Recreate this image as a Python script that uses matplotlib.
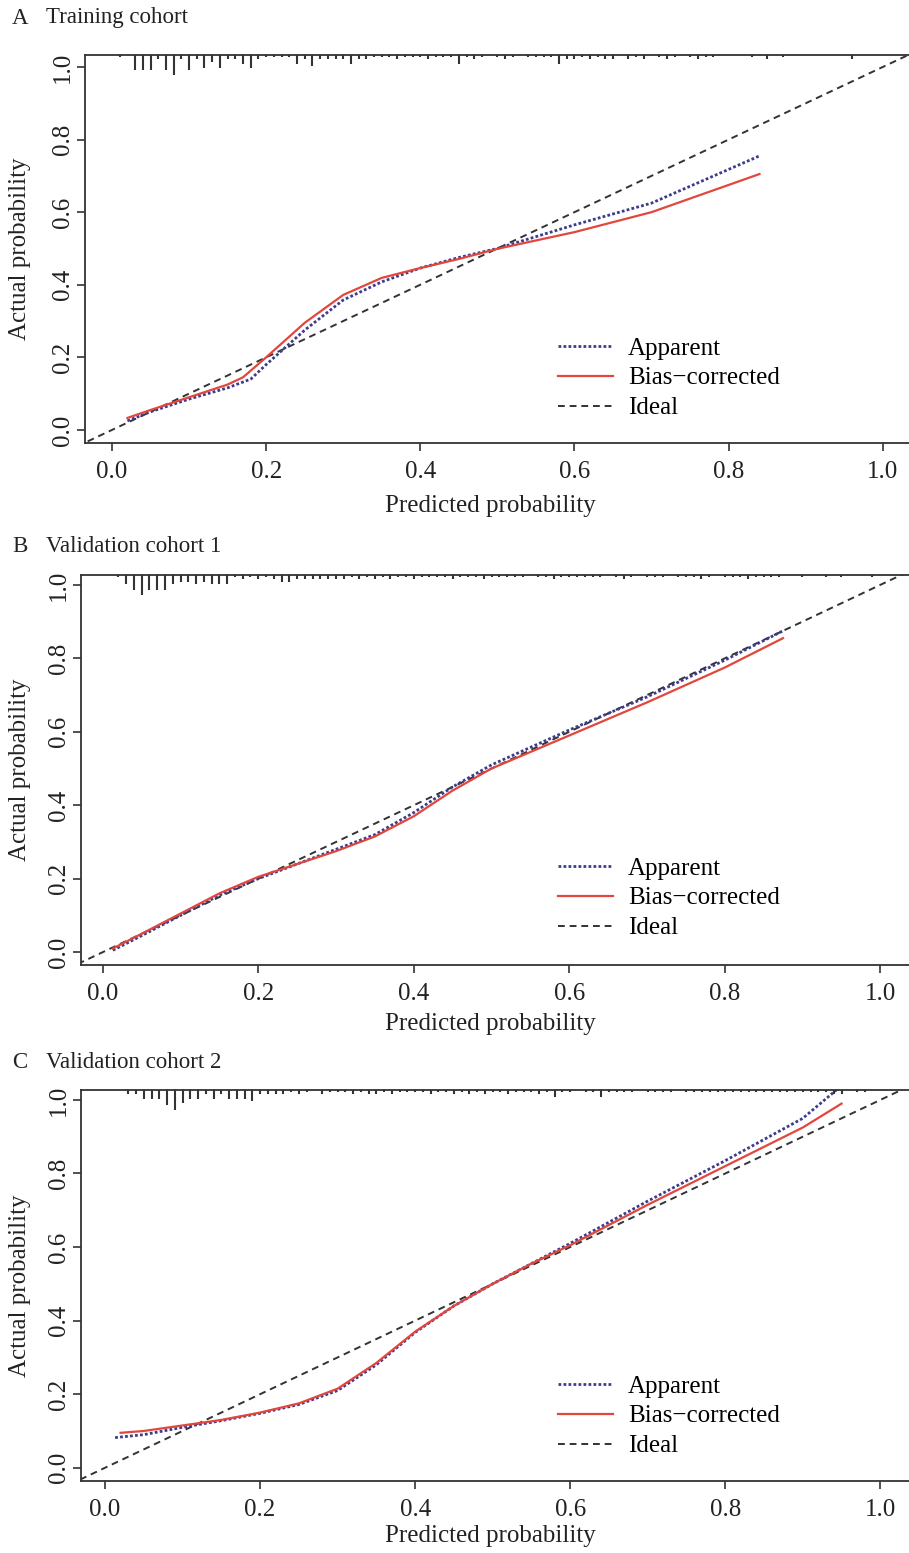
import numpy as np
import matplotlib.pyplot as plt

plt.rcParams["font.family"] = ["Liberation Serif", "DejaVu Serif"]

letters = ["A", "B", "C"]
titles = ["Training cohort", "Validation cohort 1", "Validation cohort 2"]
legend_labels = ["Apparent", "Bias\u2212corrected", "Ideal"]
ticks = [0.0, 0.2, 0.4, 0.6, 0.8, 1.0]

# A - training cohort
a_app_x = [0.02, 0.05, 0.10, 0.15, 0.18, 0.20, 0.25, 0.30, 0.35, 0.40, 0.45, 0.50, 0.60, 0.70, 0.84]
a_app_y = [0.025, 0.05, 0.085, 0.116, 0.14, 0.18, 0.275, 0.358, 0.408, 0.446, 0.475, 0.50, 0.565, 0.625, 0.755]
a_bc_x = [0.02, 0.05, 0.10, 0.15, 0.17, 0.20, 0.25, 0.30, 0.35, 0.40, 0.45, 0.50, 0.60, 0.70, 0.84]
a_bc_y = [0.033, 0.055, 0.09, 0.125, 0.145, 0.20, 0.295, 0.372, 0.419, 0.446, 0.471, 0.499, 0.545, 0.60, 0.705]
a_rug_x = [0.01, 0.03, 0.04, 0.05, 0.06, 0.07, 0.08, 0.09, 0.10, 0.11, 0.12, 0.13, 0.14, 0.15,
           0.16, 0.17, 0.18, 0.19, 0.20, 0.21, 0.22, 0.23, 0.24, 0.25, 0.26, 0.27, 0.28, 0.29,
           0.30, 0.31, 0.32, 0.33, 0.34, 0.35, 0.36, 0.37, 0.38, 0.39, 0.40, 0.41, 0.42, 0.43,
           0.44, 0.45, 0.46, 0.47, 0.48, 0.50, 0.51, 0.52, 0.54, 0.55, 0.56, 0.57, 0.58, 0.59,
           0.60, 0.61, 0.62, 0.63, 0.64, 0.65, 0.67, 0.68, 0.69, 0.71, 0.72, 0.73, 0.75, 0.76,
           0.77, 0.78, 0.83, 0.85, 0.87, 0.96]
a_rug_n = [1, 7, 7, 7, 2, 7, 9, 2, 7, 2, 6, 3, 6, 2,
           2, 4, 6, 2, 1, 1, 1, 1, 4, 2, 5, 2, 2, 2,
           2, 4, 2, 2, 1, 1, 1, 2, 1, 1, 1, 2, 1, 1,
           1, 4, 1, 2, 1, 1, 2, 1, 1, 1, 1, 1, 4, 2,
           2, 1, 2, 1, 2, 2, 2, 1, 2, 1, 2, 1, 1, 2,
           1, 1, 1, 2, 1, 2]

# B - validation cohort 1
b_app_x = [0.013, 0.05, 0.10, 0.15, 0.20, 0.25, 0.30, 0.35, 0.40, 0.45, 0.50, 0.60, 0.70, 0.80, 0.875]
b_app_y = [0.005, 0.045, 0.10, 0.155, 0.20, 0.24, 0.28, 0.32, 0.38, 0.45, 0.51, 0.605, 0.695, 0.795, 0.875]
b_bc_x = [0.013, 0.05, 0.10, 0.15, 0.20, 0.25, 0.30, 0.35, 0.40, 0.45, 0.50, 0.55, 0.60, 0.70, 0.80, 0.875]
b_bc_y = [0.01, 0.05, 0.105, 0.16, 0.205, 0.24, 0.275, 0.315, 0.37, 0.44, 0.50, 0.545, 0.59, 0.68, 0.775, 0.855]
b_rug_x = [0.02, 0.03, 0.04, 0.05, 0.06, 0.07, 0.08, 0.09, 0.10, 0.11, 0.12, 0.13, 0.14, 0.15,
           0.16, 0.17, 0.18, 0.19, 0.20, 0.21, 0.22, 0.23, 0.24, 0.25, 0.26, 0.27, 0.28, 0.29,
           0.30, 0.31, 0.32, 0.33, 0.34, 0.35, 0.36, 0.37, 0.38, 0.39, 0.40, 0.41, 0.42, 0.43,
           0.44, 0.45, 0.46, 0.47, 0.48, 0.49, 0.50, 0.51, 0.52, 0.53, 0.54, 0.56, 0.57, 0.58,
           0.59, 0.60, 0.61, 0.62, 0.63, 0.64, 0.66, 0.67, 0.68, 0.70, 0.71, 0.72, 0.74, 0.75,
           0.76, 0.77, 0.78, 0.80, 0.81, 0.82, 0.83, 0.84, 0.85, 0.86, 0.87, 0.90, 0.93, 0.95, 0.99]
b_rug_n = [1, 4, 7, 9, 7, 7, 7, 4, 3, 3, 4, 3, 4, 4,
           4, 1, 2, 1, 2, 1, 2, 3, 3, 2, 2, 2, 2, 2,
           2, 2, 1, 2, 1, 2, 1, 2, 1, 1, 2, 1, 1, 1,
           1, 2, 1, 1, 1, 2, 1, 1, 1, 1, 1, 1, 1, 2,
           1, 1, 1, 1, 1, 1, 1, 2, 1, 1, 1, 1, 1, 1,
           1, 2, 1, 1, 1, 1, 2, 1, 1, 1, 1, 1, 1, 1, 1]

# C - validation cohort 2
c_app_x = [0.013, 0.05, 0.10, 0.15, 0.20, 0.25, 0.30, 0.35, 0.40, 0.45, 0.50, 0.60, 0.70, 0.80, 0.90, 0.945]
c_app_y = [0.082, 0.09, 0.11, 0.128, 0.148, 0.172, 0.21, 0.28, 0.368, 0.44, 0.50, 0.61, 0.725, 0.835, 0.95, 1.03]
c_bc_x = [0.02, 0.05, 0.10, 0.15, 0.20, 0.25, 0.30, 0.35, 0.40, 0.45, 0.50, 0.55, 0.60, 0.70, 0.80, 0.90, 0.95]
c_bc_y = [0.095, 0.10, 0.115, 0.13, 0.15, 0.175, 0.215, 0.285, 0.37, 0.44, 0.50, 0.555, 0.605, 0.715, 0.82, 0.925, 0.99]
c_rug_x = [0.03, 0.04, 0.05, 0.06, 0.07, 0.08, 0.09, 0.10, 0.11, 0.12, 0.13, 0.14, 0.15, 0.16,
           0.17, 0.18, 0.19, 0.20, 0.21, 0.22, 0.23, 0.24, 0.25, 0.26, 0.28, 0.29, 0.30, 0.31,
           0.32, 0.33, 0.34, 0.35, 0.36, 0.37, 0.38, 0.39, 0.40, 0.41, 0.42, 0.43, 0.44, 0.45,
           0.46, 0.47, 0.48, 0.49, 0.50, 0.51, 0.52, 0.53, 0.54, 0.55, 0.56, 0.57, 0.58, 0.59,
           0.60, 0.62, 0.63, 0.64, 0.65, 0.66, 0.67, 0.68, 0.70, 0.71, 0.72, 0.73, 0.75, 0.76,
           0.77, 0.78, 0.79, 0.80, 0.81, 0.82, 0.83, 0.84, 0.85, 0.86, 0.87, 0.88, 0.89, 0.90,
           0.91, 0.92, 0.93, 0.94, 0.95, 0.97, 0.98]
c_rug_n = [2, 2, 4, 4, 4, 7, 9, 6, 4, 4, 2, 4, 2, 4,
           4, 4, 5, 2, 2, 2, 2, 1, 2, 1, 2, 1, 1, 1,
           2, 1, 2, 2, 1, 2, 1, 1, 1, 1, 2, 1, 1, 2,
           1, 2, 1, 2, 1, 1, 2, 1, 1, 1, 2, 1, 3, 1,
           1, 1, 1, 3, 1, 1, 1, 1, 1, 1, 1, 1, 1, 1,
           1, 1, 1, 1, 1, 1, 1, 1, 1, 1, 1, 1, 1, 1,
           1, 1, 1, 2, 2, 1, 1]

panels = [
    (a_app_x, a_app_y, a_bc_x, a_bc_y, a_rug_x, a_rug_n),
    (b_app_x, b_app_y, b_bc_x, b_bc_y, b_rug_x, b_rug_n),
    (c_app_x, c_app_y, c_bc_x, c_bc_y, c_rug_x, c_rug_n),
]

W, H = 909, 1553
fig = plt.figure(figsize=(W / 100, H / 100), dpi=100)

boxes = [(85, 55, 443), (81, 575, 965), (81, 1090, 1481)]
xlims = [(-0.035, 1.034), (-0.028, 1.037), (-0.031, 1.037)]
ylims = [(-0.036, 1.033), (-0.035, 1.027), (-0.036, 1.027)]
title_y = [18, 547, 1062]
legend_top = [337, 857, 1375]
xlabel_gap = [52, 48, 44]

red = "#e2463d"
blue = "#3c3c8c"
fs = 18

for i, (app_x, app_y, bc_x, bc_y, rug_x, rug_n) in enumerate(panels):
    left, top, bottom = boxes[i]
    ax_w, ax_h = W - left, bottom - top
    ax = fig.add_axes([left / W, 1 - bottom / H, ax_w / W, ax_h / H])
    ax.set_xlim(*xlims[i])
    ax.set_ylim(*ylims[i])

    ax.plot([-0.1, 1.1], [-0.1, 1.1], color="#333333", lw=1.4, ls=(0, (3.5, 2.5)), label=legend_labels[2])
    ax.plot(app_x, app_y, color=blue, lw=2.0, ls=(0, (1, 0.8)), label=legend_labels[0])
    ax.plot(bc_x, bc_y, color=red, lw=1.6, label=legend_labels[1])

    # rug of predicted probabilities hanging from the top
    lengths = np.array(rug_n) * 2.2 / ax_h
    ax.vlines(rug_x, 1 - lengths, 1, transform=ax.get_xaxis_transform(),
              color="#333333", lw=1.5)

    for s in ["left", "bottom", "top"]:
        ax.spines[s].set_color("#333333")
        ax.spines[s].set_linewidth(1.3)
    ax.spines["right"].set_visible(False)

    ax.set_xticks(ticks)
    ax.set_yticks(ticks)
    ax.set_xticklabels(["%.1f" % t for t in ticks])
    ax.set_yticklabels(["%.1f" % t for t in ticks], rotation=90, va="center")
    ax.tick_params(direction="out", length=6, width=1.2, color="#333333",
                   labelsize=fs, labelcolor="#222222")
    ax.tick_params(axis="y", pad=2)
    ax.tick_params(axis="x", pad=7)

    ax.set_xlabel("Predicted probability", fontsize=fs, color="#222222")
    ax.xaxis.set_label_coords((490 - left) / ax_w, -xlabel_gap[i] / ax_h)
    ax.set_ylabel("Actual probability", fontsize=fs, color="#222222")
    ax.yaxis.set_label_coords(-(left - 31) / ax_w, 0.5)

    handles, labels = ax.get_legend_handles_labels()
    order = [1, 2, 0]
    ax.legend([handles[k] for k in order], [labels[k] for k in order],
              loc="upper left",
              bbox_to_anchor=((558 - left) / ax_w, (bottom - legend_top[i]) / ax_h),
              frameon=False, fontsize=fs, handlelength=2.2, handletextpad=0.6,
              labelspacing=0.3, borderpad=0, borderaxespad=0)

    fig.text(12 / W, 1 - title_y[i] / H, letters[i], fontsize=16.5, va="center", ha="left", color="#222222")
    fig.text(46 / W, 1 - title_y[i] / H, titles[i], fontsize=16.5, va="center", ha="left", color="#222222")

fig.savefig("out.png", dpi=100, facecolor="white")
